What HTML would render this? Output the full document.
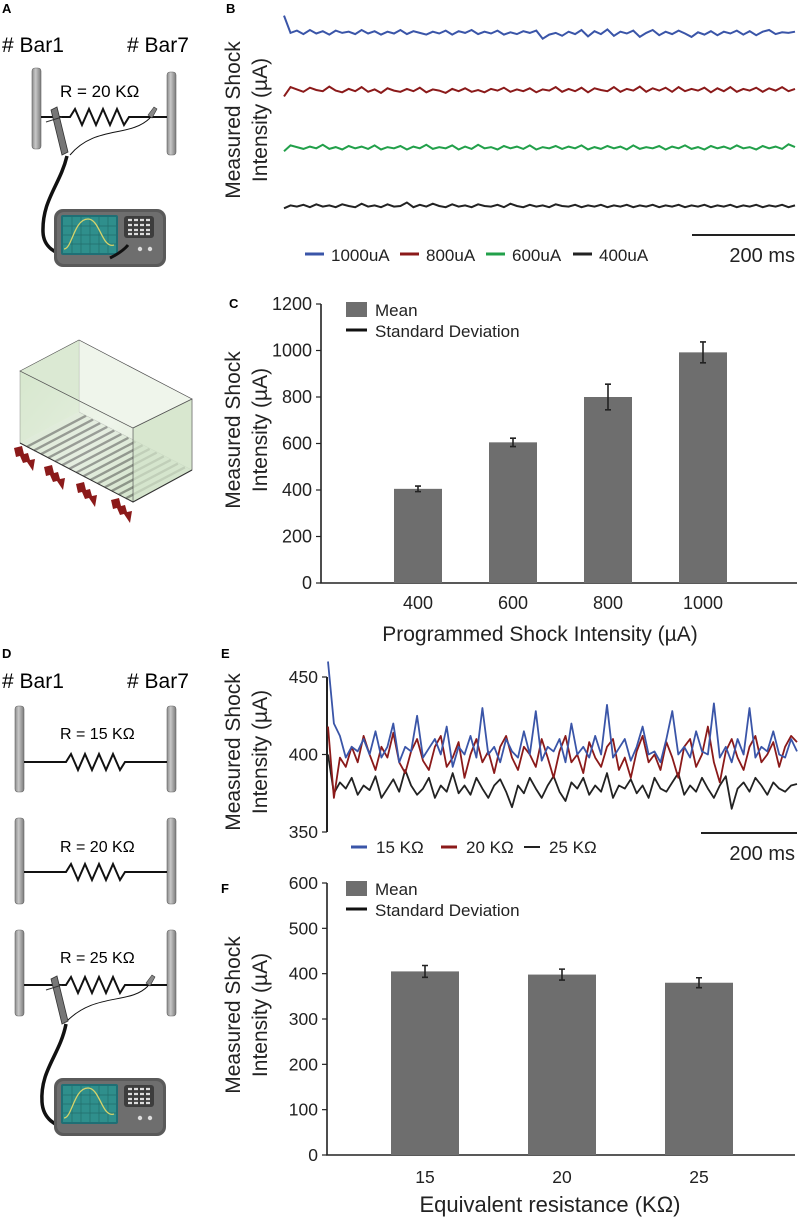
<!DOCTYPE html>
<html><head><meta charset="utf-8"><style>
html,body{margin:0;padding:0;background:#fff;}
svg{display:block;font-family:"Liberation Sans",Arial,sans-serif;}
</style></head><body>
<svg id="fig" width="800" height="1224" viewBox="0 0 800 1224">
<defs>
<linearGradient id="cyl" x1="0" x2="1"><stop offset="0" stop-color="#8a8a8a"/><stop offset="0.4" stop-color="#c8c8c8"/><stop offset="1" stop-color="#7a7a7a"/></linearGradient>
<linearGradient id="glass" x1="0" y1="0" x2="1" y2="1"><stop offset="0" stop-color="#d3e6c9"/><stop offset="0.6" stop-color="#eef5ea"/><stop offset="1" stop-color="#c8dfbc"/></linearGradient>
<g id="scope">
<rect x="0" y="0" width="112" height="58" rx="9" fill="#5a5a5a"/>
<rect x="3" y="3" width="106" height="52" rx="7" fill="#6e6e6e"/>
<rect x="7" y="6" width="57" height="40" rx="2" fill="#1f6f75"/>
<rect x="9" y="8" width="53" height="36" fill="#2f8f8c"/>
<path d="M18,8V44M27,8V44M36,8V44M45,8V44M54,8V44M9,17H62M9,26H62M9,35H62" stroke="#236e6c" stroke-width="0.7"/>
<path d="M10,40 C18,40 20,10 34,10 C46,10 48,40 60,36" stroke="#d6d36a" stroke-width="1.3" fill="none"/>
<rect x="70" y="7" width="30" height="22" rx="3" fill="#3d3d3d"/>
<path d="M74,11h4M80,11h4M86,11h4M92,11h4M74,16h4M80,16h4M86,16h4M92,16h4M74,21h4M80,21h4M86,21h4M92,21h4M74,25h4M80,25h4M86,25h4M92,25h4" stroke="#ddd" stroke-width="2.2"/>
<circle cx="86" cy="40" r="2.2" fill="#ddd"/><circle cx="96" cy="40" r="2.2" fill="#ddd"/>
</g>
<polygon id="bolt" points="0,2 8,0 10,8 14,7 16,14 21,13 19,25 13,16 9,17 6,10 2,11" fill="#8b1a1a"/>
</defs>

<!-- ============ Panel A ============ -->
<g>
<text x="2" y="13" font-size="13" font-weight="bold">A</text>
<text x="2" y="52" font-size="21"># Bar1</text>
<text x="127" y="52" font-size="21"># Bar7</text>
<rect x="32" y="68" width="9" height="81" rx="3" fill="url(#cyl)" stroke="#666" stroke-width="0.6"/>
<rect x="167" y="72" width="9" height="83" rx="3" fill="url(#cyl)" stroke="#666" stroke-width="0.6"/>
<text x="60" y="97" font-size="17">R = 20 KΩ</text>
<path d="M41,117H70l5,-8l7,16l7,-16l7,16l7,-16l7,16l7,-16l7,16l5,-8H167" stroke="#111" stroke-width="2" fill="none"/>
<path d="M150,118 C130,138 95,125 70,155" stroke="#111" stroke-width="1" fill="none"/>
<path d="M148,115l6,-8l3,2l-5,9z" fill="#888" stroke="#333" stroke-width="0.6"/>
<path d="M51,110l6,-3l11,45l-6,3z" fill="#777" stroke="#333" stroke-width="0.8"/>
<path d="M46,122l16,-5" stroke="#333" stroke-width="1"/>
<path d="M67,156 C60,185 42,200 43,232 C44,262 90,262 124,248" stroke="#111" stroke-width="3.5" fill="none"/>
<use href="#scope" x="54" y="209"/>
<path d="M110,258 C118,254 124,250 128,245" stroke="#111" stroke-width="3" fill="none"/>
<!-- chamber -->
<g>
<polygon points="20,443 79,412 192,470 133,502" fill="#dfe9da"/>
<g id="stripes" stroke="#555" stroke-width="2.4"></g>
<polygon points="79,340 192,399 192,470 79,412" fill="#eaf2e5" opacity="0.75" stroke="#777" stroke-width="0.5"/>
<polygon points="20,371 79,340 79,412 20,443" fill="#cfe2c4" opacity="0.75"/>
<polygon points="133,428 192,399 192,470 133,502" fill="#d4e5cb" opacity="0.85" stroke="#555" stroke-width="0.7"/>
<polygon points="20,371 133,428 133,502 20,443" fill="url(#glass)" opacity="0.45" stroke="#555" stroke-width="0.7"/>
<polygon points="20,371 79,340 192,399 133,428" fill="none" stroke="#555" stroke-width="0.7"/>
<path d="M20,443L133,502L192,470" stroke="#333" stroke-width="1" fill="none"/>
</g>
<g>
<use href="#bolt" x="14" y="446"/>
<use href="#bolt" x="44" y="465"/>
<use href="#bolt" x="76" y="482"/>
<use href="#bolt" x="111" y="498"/>
</g>
</g>

<!-- ============ Panel D ============ -->
<g>
<text x="2" y="658" font-size="13" font-weight="bold">D</text>
<text x="2" y="688" font-size="21"># Bar1</text>
<text x="127" y="688" font-size="21"># Bar7</text>
<g>
<rect x="15" y="706" width="9" height="86" rx="3" fill="url(#cyl)" stroke="#666" stroke-width="0.6"/>
<rect x="167" y="706" width="9" height="86" rx="3" fill="url(#cyl)" stroke="#666" stroke-width="0.6"/>
<text x="60" y="739" font-size="16">R = 15 KΩ</text>
<path d="M24,762H66l5,-8l7,16l7,-16l7,16l7,-16l7,16l7,-16l7,16l5,-8H167" stroke="#111" stroke-width="2" fill="none"/>
</g>
<g>
<rect x="15" y="818" width="9" height="86" rx="3" fill="url(#cyl)" stroke="#666" stroke-width="0.6"/>
<rect x="167" y="818" width="9" height="86" rx="3" fill="url(#cyl)" stroke="#666" stroke-width="0.6"/>
<text x="60" y="852" font-size="16">R = 20 KΩ</text>
<path d="M24,872H66l5,-8l7,16l7,-16l7,16l7,-16l7,16l7,-16l7,16l5,-8H167" stroke="#111" stroke-width="2" fill="none"/>
</g>
<g>
<rect x="15" y="930" width="9" height="86" rx="3" fill="url(#cyl)" stroke="#666" stroke-width="0.6"/>
<rect x="167" y="930" width="9" height="86" rx="3" fill="url(#cyl)" stroke="#666" stroke-width="0.6"/>
<text x="60" y="963" font-size="16">R = 25 KΩ</text>
<path d="M24,985H66l5,-8l7,16l7,-16l7,16l7,-16l7,16l7,-16l7,16l5,-8H167" stroke="#111" stroke-width="2" fill="none"/>
<path d="M148,986 C130,1005 95,992 66,1022" stroke="#111" stroke-width="1" fill="none"/>
<path d="M146,983l6,-8l3,2l-5,9z" fill="#888" stroke="#333" stroke-width="0.6"/>
<path d="M51,979l6,-3l11,45l-6,3z" fill="#777" stroke="#333" stroke-width="0.8"/>
<path d="M46,990l16,-5" stroke="#333" stroke-width="1"/>
</g>
<path d="M66,1024 C60,1055 40,1070 42,1102 C44,1135 90,1135 124,1122" stroke="#111" stroke-width="3.5" fill="none"/>
<use href="#scope" x="54" y="1078"/>
</g>

<!-- Y axis titles -->
<g font-size="21" fill="#222">
<g transform="translate(240,120) rotate(-90)"><text x="0" y="0" text-anchor="middle">Measured Shock</text><text x="0" y="27" text-anchor="middle">Intensity (µA)</text></g>
<g transform="translate(240,430) rotate(-90)"><text x="0" y="0" text-anchor="middle">Measured Shock</text><text x="0" y="27" text-anchor="middle">Intensity (µA)</text></g>
<g transform="translate(240,752) rotate(-90)"><text x="0" y="0" text-anchor="middle">Measured Shock</text><text x="0" y="27" text-anchor="middle">Intensity (µA)</text></g>
<g transform="translate(240,1015) rotate(-90)"><text x="0" y="0" text-anchor="middle">Measured Shock</text><text x="0" y="27" text-anchor="middle">Intensity (µA)</text></g>
</g>
<text x="226" y="13" font-size="13" font-weight="bold">B</text>
<text x="229" y="308" font-size="13" font-weight="bold">C</text>
<text x="221" y="658" font-size="13" font-weight="bold">E</text>
<text x="221" y="893" font-size="13" font-weight="bold">F</text>
<g id="charts"></g>
</svg>
<script>
// ---------- Panel B data ----------
const bLevels = [1000, 800, 600, 400];
const bLabels = ["1000uA", "800uA", "600uA", "400uA"];
const bColors = ["#3a55a8", "#8b1a1a", "#22a04a", "#222222"];
const bTrace1000 = [1060,1000,1008,996,1010,998,1006,994,1008,1000,1004,996,1010,998,1006,994,1004,998,1010,996,1006,1000,994,1004,998,1008,994,1006,1000,1010,996,1004,998,1008,994,1002,996,1006,1000,1008,980,994,1000,990,1004,996,1010,988,1006,996,1012,990,1004,998,1008,986,1000,1010,992,1004,996,1008,998,986,1002,994,1006,992,1004,998,1008,994,1006,992,1004,1010,996,1002,1000,1004];
const bTrace800 = [780,812,804,796,810,802,798,814,800,794,806,798,812,796,804,792,808,800,796,806,798,810,794,804,800,792,806,798,808,796,802,794,806,800,810,796,804,798,808,794,804,800,812,796,806,798,810,794,808,802,798,812,796,806,800,814,796,808,800,810,796,812,798,806,800,810,794,808,798,812,796,806,800,810,796,808,800,812,798,806];
const bTrace600 = [590,610,604,598,606,600,612,598,604,596,608,600,606,598,610,596,604,600,608,596,606,600,612,598,604,600,610,596,606,598,612,600,604,596,608,600,606,598,610,596,604,600,608,598,606,600,610,596,604,598,608,600,606,596,610,598,604,600,608,596,606,600,610,598,604,596,608,600,606,598,610,600,604,596,608,600,606,598,614,604];
const bTrace400 = [392,402,398,404,396,406,398,402,396,406,400,396,408,398,402,396,406,398,400,412,396,404,398,408,400,396,406,398,402,396,406,400,398,404,396,408,400,396,404,398,402,396,406,400,398,404,396,402,398,404,396,402,398,404,396,402,398,404,396,402,398,404,396,402,398,404,396,402,398,404,396,402,398,404,396,402,398,404,396,402];
const bTraces = [bTrace1000, bTrace800, bTrace600, bTrace400];

// ---------- Panel C data ----------
const cCategories = ["400", "600", "800", "1000"];
const cMeans = [405, 605, 800, 992];
const cSD = [12, 18, 55, 45];
const cTicks = [0, 200, 400, 600, 800, 1000, 1200];

// ---------- Panel E data ----------
const eLabels = ["15 KΩ", "20 KΩ", "25 KΩ"];
const eColors = ["#3a55a8", "#8b1a1a", "#222222"];
const eTicks = [350, 400, 450];
const eTrace15 = [460,420,412,398,405,402,410,400,415,398,405,420,395,405,402,425,398,404,410,400,418,392,405,400,412,398,430,400,405,395,410,402,398,415,400,428,396,405,402,410,395,420,400,405,398,412,400,432,398,404,410,396,405,418,400,402,395,410,428,400,405,398,415,402,400,433,398,405,395,410,400,430,398,405,402,415,400,398,410,402];
const eTrace20 = [418,372,398,392,405,395,412,400,390,405,398,414,395,388,402,410,396,390,405,412,392,398,408,385,400,410,395,402,388,405,412,398,390,405,400,392,410,398,385,402,412,395,400,388,408,398,392,405,410,390,398,385,402,412,395,400,390,408,398,385,405,410,392,400,418,395,382,402,410,398,390,405,412,395,400,408,392,405,412,408];
const eTrace25 = [400,375,382,378,385,374,380,377,386,372,378,384,376,390,380,374,378,385,372,380,376,388,375,380,374,385,378,372,380,384,376,366,380,375,385,378,372,380,386,376,370,382,378,385,374,380,376,388,372,380,378,384,375,380,372,385,378,376,382,388,374,380,376,385,378,372,380,386,365,378,382,376,385,380,374,382,378,376,380,381];
const eTraces = [eTrace15, eTrace20, eTrace25];

// ---------- Panel F data ----------
const fCategories = ["15", "20", "25"];
const fMeans = [405, 398, 380];
const fSD = [13, 12, 11];
const fTicks = [0, 100, 200, 300, 400, 500, 600];

const NS = "http://www.w3.org/2000/svg";
const root = document.getElementById("charts");
function mk(tag, attrs, parent, text) {
  const e = document.createElementNS(NS, tag);
  for (const k in attrs) e.setAttribute(k, attrs[k]);
  if (text !== undefined) e.textContent = text;
  (parent || root).appendChild(e);
  return e;
}

// chamber floor stripes (illustration)
(function () {
  const sg = document.getElementById("stripes");
  let d = "";
  for (let k = 1; k < 16; k++) {
    const t = k / 16;
    const x0 = 20 + 113 * t, y0 = 443 + 59 * t;
    d += "M" + x0.toFixed(1) + "," + y0.toFixed(1) + "l59,-31";
  }
  mk("path", { d: d }, sg);
})();

// ===== Panel B =====
const gB = mk("g", {});


const bX0 = 284, bX1 = 795;
function bY(v) { return 206 - (v - 400) * 0.2885; }
bTraces.forEach((arr, i) => {
  const n = arr.length;
  let d = "";
  arr.forEach((v, j) => { const x = bX0 + (bX1 - bX0) * j / (n - 1); d += (j ? "L" : "M") + x.toFixed(1) + "," + bY(v).toFixed(1); });
  const p = mk("path", { d: d, stroke: bColors[i], "stroke-width": 2, fill: "none" }, gB);
  
  
});
const bLegX = [305, 400, 486, 573];
bLabels.forEach((lab, i) => {
  const g = mk("g", {}, gB);
  
  
  mk("line", { x1: bLegX[i], x2: bLegX[i] + 19, y1: 254, y2: 254, stroke: bColors[i], "stroke-width": 3 }, g);
  mk("text", { x: bLegX[i] + 26, y: 261, "font-size": 17, fill: "#222" }, g, lab);
});
const sbB = mk("line", { x1: 692, x2: 795, y1: 235, y2: 235, stroke: "#222", "stroke-width": 2 }, gB);


const sbBt = mk("text", { x: 795, y: 262, "font-size": 20, "text-anchor": "end", fill: "#222" }, gB, "200 ms");



// ===== bar chart helper =====
function barChart(cfg) {
  const g = mk("g", {});
  
  
  const y = v => cfg.y0 - (v - cfg.vmin) * (cfg.y0 - cfg.y1) / (cfg.vmax - cfg.vmin);
  const x = i => cfg.xStart + i * cfg.xStep;
  const ax = mk("path", { d: "M" + cfg.ax + "," + y(cfg.vmax) + "V" + cfg.y0 + "H" + cfg.xEnd, stroke: "#222", "stroke-width": 1.6, fill: "none" }, g);
  
  
  cfg.ticks.forEach(t => {
    mk("line", { x1: cfg.ax - 5, x2: cfg.ax, y1: y(t), y2: y(t), stroke: "#222", "stroke-width": 1.2 }, g);
    const tl = mk("text", { x: cfg.ax - 9, y: y(t) + 6, "font-size": cfg.tickSize, "text-anchor": "end", fill: "#222" }, g, String(t));
    
    
  });
  cfg.cats.forEach((c, i) => {
    const cx = x(i);
    const r = mk("rect", { x: cx - cfg.bw / 2, y: y(cfg.means[i]), width: cfg.bw, height: cfg.y0 - y(cfg.means[i]), fill: "#6e6e6e" }, g);
    
    
    const e = mk("path", { d: "M" + cx + "," + y(cfg.means[i] + cfg.sd[i]) + "V" + y(cfg.means[i] - cfg.sd[i]) + "M" + (cx - 3) + "," + y(cfg.means[i] + cfg.sd[i]) + "h6M" + (cx - 3) + "," + y(cfg.means[i] - cfg.sd[i]) + "h6", stroke: "#222", "stroke-width": 1.6, fill: "none" }, g);
    
    
    const tl = mk("text", { x: cx, y: cfg.xLabY, "font-size": cfg.tickSize, "text-anchor": "middle", fill: "#222" }, g, c);
    
    
  });
  const lg = mk("g", {}, g);
  
  
  mk("rect", { x: 346, y: cfg.legY, width: 21, height: 15, fill: "#6e6e6e" }, lg);
  mk("text", { x: 375, y: cfg.legY + 14, "font-size": 17, fill: "#222" }, lg, "Mean");
  mk("line", { x1: 346, x2: 367, y1: cfg.legY + 28, y2: cfg.legY + 28, stroke: "#111", "stroke-width": 3 }, lg);
  mk("text", { x: 375, y: cfg.legY + 35, "font-size": 17, fill: "#222" }, lg, "Standard Deviation");
  const xt = mk("text", { x: cfg.titleX, y: cfg.titleY, "font-size": cfg.titleSize, "text-anchor": "middle", fill: "#222" }, g, cfg.title);
  
  
}
barChart({ name: "chart-c", cats: cCategories, means: cMeans, sd: cSD, ticks: cTicks, vmin: 0, vmax: 1200, y0: 583, y1: 304, ax: 321, xEnd: 797, xStart: 418, xStep: 95, bw: 48, legY: 302, tickSize: 18, xLabY: 609, titleX: 540, titleY: 641, titleSize: 21, title: "Programmed Shock Intensity (µA)" });
barChart({ name: "chart-f", cats: fCategories, means: fMeans, sd: fSD, ticks: fTicks, vmin: 0, vmax: 600, y0: 1155, y1: 883, ax: 327, xEnd: 795, xStart: 425, xStep: 137, bw: 68, legY: 881, tickSize: 17.5, xLabY: 1183, titleX: 550, titleY: 1212, titleSize: 22, title: "Equivalent resistance (KΩ)" });

// ===== Panel E =====
const gE = mk("g", {});


const eX0 = 328, eX1 = 797;
function eY(v) { return 832 - (v - 350) * 155 / 100; }
const eAx = mk("line", { x1: 327, x2: 327, y1: eY(450), y2: eY(350), stroke: "#222", "stroke-width": 2 }, gE);


eTicks.forEach(t => {
  mk("line", { x1: 322, x2: 327, y1: eY(t), y2: eY(t), stroke: "#222", "stroke-width": 1.2 }, gE);
  const tl = mk("text", { x: 318, y: eY(t) + 6, "font-size": 17.5, "text-anchor": "end", fill: "#222" }, gE, String(t));
  
  
});
[2, 1, 0].forEach(i => {
  const arr = eTraces[i];
  const n = arr.length;
  let d = "";
  arr.forEach((v, j) => { const x = eX0 + (eX1 - eX0) * j / (n - 1); d += (j ? "L" : "M") + x.toFixed(1) + "," + eY(v).toFixed(1); });
  const p = mk("path", { d: d, stroke: eColors[i], "stroke-width": 1.8, fill: "none", "stroke-linejoin": "round" }, gE);
  
  
});
const eLegX = [351, 441, 524];
eLabels.forEach((lab, i) => {
  const g = mk("g", {}, gE);
  
  
  mk("line", { x1: eLegX[i], x2: eLegX[i] + 16, y1: 847, y2: 847, stroke: eColors[i], "stroke-width": i === 2 ? 2 : 3 }, g);
  mk("text", { x: eLegX[i] + 25, y: 853, "font-size": 17, fill: "#222" }, g, lab);
});
const sbE = mk("line", { x1: 701, x2: 797, y1: 833, y2: 833, stroke: "#222", "stroke-width": 2 }, gE);


const sbEt = mk("text", { x: 795, y: 860, "font-size": 20, "text-anchor": "end", fill: "#222" }, gE, "200 ms");


</script>
</body></html>
